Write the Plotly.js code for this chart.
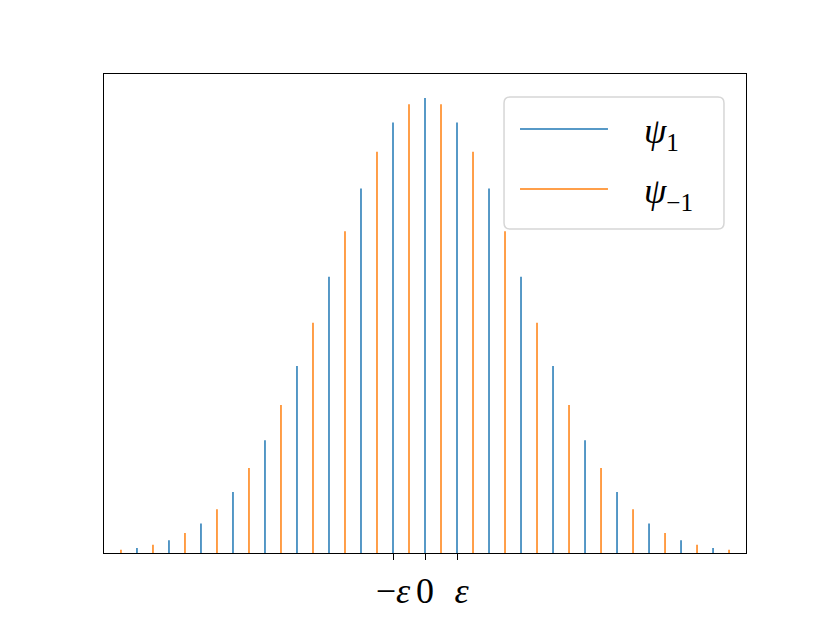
<!DOCTYPE html>
<html>
<head>
<meta charset="utf-8">
<script src="https://cdn.plot.ly/plotly-3.0.1.min.js"></script>
<style>html,body{margin:0;padding:0;background:#fff;}#chart{width:830px;height:623px;}</style>
</head>
<body>
<div id="chart"></div>
<script>
// ψ_1 stems at integer multiples of ε
const psi1X = [-9,-8,-7,-6,-5,-4,-3,-2,-1,0,1,2,3,4,5,6,7,8,9];
const psi1Y = [0.011,0.028,0.065,0.134,0.248,0.411,0.607,0.801,0.946,1.0,0.946,0.801,0.607,0.411,0.248,0.134,0.065,0.028,0.011];
// ψ_-1 stems at half-integer multiples of ε
const psiM1X = [-9.5,-8.5,-7.5,-6.5,-5.5,-4.5,-3.5,-2.5,-1.5,-0.5,0.5,1.5,2.5,3.5,4.5,5.5,6.5,7.5,8.5,9.5];
const psiM1Y = [0.007,0.018,0.044,0.096,0.187,0.325,0.506,0.707,0.882,0.986,0.986,0.882,0.707,0.506,0.325,0.187,0.096,0.044,0.018,0.007];
const tickVals = [-1, 0, 1];
const tickText = ['−<i>ε</i>', '0', ' <i>ε</i>'];
const seriesNames = ['<i>ψ</i><sub>1</sub>', '<i>ψ</i><sub>−1</sub>'];
const seriesColors = ['#1f77b4', '#ff7f0e'];

function stems(xs, ys) {
  const x = [], y = [];
  xs.forEach((v, i) => { x.push(v, v, null); y.push(0, ys[i], null); });
  return {x, y};
}
const s1 = stems(psi1X, psi1Y);
const s2 = stems(psiM1X, psiM1Y);

const traces = [
  {type:'scatter', mode:'lines', x:s1.x, y:s1.y, name:seriesNames[0],
   line:{color:seriesColors[0], width:1.5}, connectgaps:false, hoverinfo:'skip', showlegend:false},
  {type:'scatter', mode:'lines', x:s2.x, y:s2.y, name:seriesNames[1],
   line:{color:seriesColors[1], width:1.5}, connectgaps:false, hoverinfo:'skip', showlegend:false}
];

// matplotlib-style legend box (paper coordinates)
const W = 642, H = 479;
const bx0 = 0.6231, bx1 = 0.9657, by0 = 0.6764, by1 = 0.9520;
const rx = 6 / W, ry = 6 / H;
const boxPath = `M${bx0+rx},${by1} L${bx1-rx},${by1} Q${bx1},${by1} ${bx1},${by1-ry} ` +
  `L${bx1},${by0+ry} Q${bx1},${by0} ${bx1-rx},${by0} L${bx0+rx},${by0} ` +
  `Q${bx0},${by0} ${bx0},${by0+ry} L${bx0},${by1-ry} Q${bx0},${by1} ${bx0+rx},${by1} Z`;
const legRows = [0.8852, 0.7599];
const legTextY = [0.8768, 0.7495];

const shapes = [
  {type:'path', xref:'paper', yref:'paper', path:boxPath,
   fillcolor:'rgba(255,255,255,0.8)', line:{color:'#d6d6d6', width:1.5}, layer:'above'}
];
const annotations = [];
legRows.forEach((yy, i) => {
  shapes.push({type:'line', xref:'paper', yref:'paper', x0:0.6480, x1:0.7850, y0:yy, y1:yy,
    line:{color:seriesColors[i], width:1.5}, layer:'above'});
  annotations.push({xref:'paper', yref:'paper', x:0.8380, y:legTextY[i], xanchor:'left', yanchor:'middle',
    text:seriesNames[i], showarrow:false,
    font:{family:'Liberation Serif, DejaVu Serif, serif', size:36, color:'#000'}});
});

const layout = {
  width:830, height:623,
  margin:{l:104, r:84, t:74, b:70, pad:0},
  paper_bgcolor:'#ffffff', plot_bgcolor:'#ffffff',
  font:{family:'Liberation Serif, DejaVu Serif, serif', color:'#000'},
  showlegend:false,
  shapes: shapes,
  annotations: annotations,
  xaxis:{range:[-10.03, 10.03], showgrid:false, zeroline:false,
    showline:true, linecolor:'#000', linewidth:1, mirror:true,
    tickmode:'array', tickvals:tickVals, ticktext:tickText,
    ticks:'outside', ticklen:6, tickwidth:1, tickcolor:'#000',
    tickfont:{family:'Liberation Serif, DejaVu Serif, serif', size:36, color:'#000'}},
  yaxis:{range:[0, 1.0527], showgrid:false, zeroline:false,
    showline:true, linecolor:'#000', linewidth:1, mirror:true,
    showticklabels:false, ticks:''}
};

Plotly.newPlot('chart', traces, layout, {displayModeBar:false, staticPlot:true});
</script>
</body>
</html>
